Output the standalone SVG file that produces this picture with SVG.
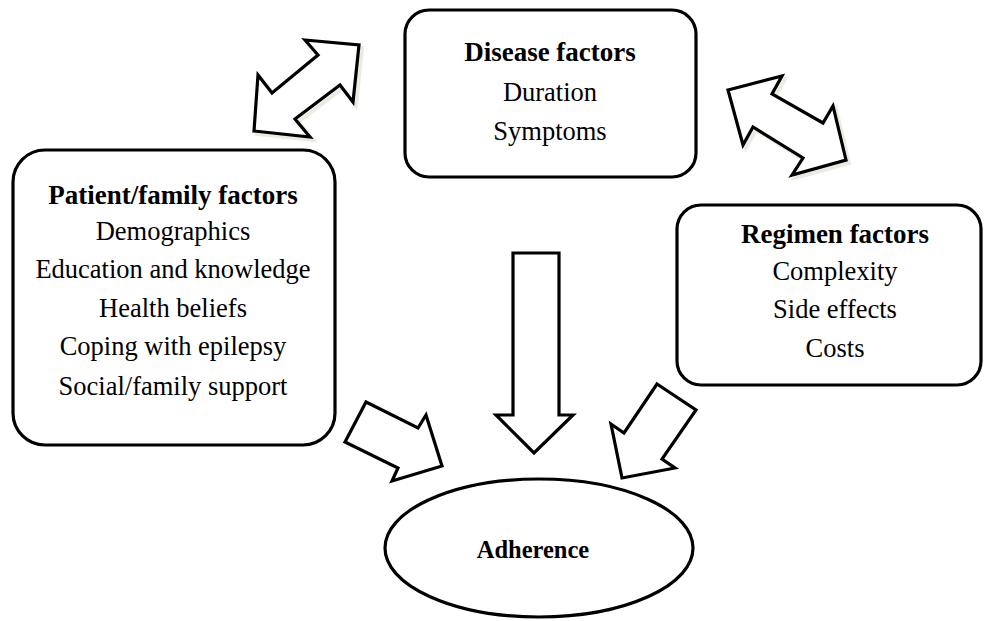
<svg xmlns="http://www.w3.org/2000/svg" width="984" height="621" viewBox="0 0 984 621">
  <style>
    .box { fill: #ffffff; stroke: #000000; stroke-width: 3.2; }
    .arrow { fill: #ffffff; stroke: #000000; stroke-width: 3.2; stroke-linejoin: miter; }
    .shadow { fill: none; stroke: #ecebe3; stroke-width: 4; stroke-linejoin: miter; }
    text { font-family: 'Liberation Serif', 'DejaVu Serif', serif; fill: #000000; text-anchor: middle; }
    .title { font-weight: bold; font-size: 27px; }
    .item { font-size: 26.5px; }
  </style>
  <rect width="984" height="621" fill="#ffffff"/>

  <!-- block arrows between the factor groups and toward adherence -->
  <g id="connectors">
    <polygon class="shadow" transform="translate(3,3)" points="305,40 359,45 353,102 340,85 295,119 310,137 254,131 258,75 272,93 318,55"/>
    <polygon class="arrow" points="305,40 359,45 353,102 340,85 295,119 310,137 254,131 258,75 272,93 318,55"/>
    <polygon class="shadow" transform="translate(3,3)" points="728,90 782,76 772,94 823,123 833,106 846,160 792,175 803,158 753,127 743,145"/>
    <polygon class="arrow" points="728,90 782,76 772,94 823,123 833,106 846,160 792,175 803,158 753,127 743,145"/>
    <polygon class="arrow" points="513,253 559,253 559,415 573,415 534,453 496,415 513,415"/>
    <polygon class="arrow" points="366,402 418,428 426,415 442,466 392,481 398,468 345,442"/>
    <polygon class="arrow" points="657,384 696,410 662,459 675,468 622,478 611,424 624,433"/>
  </g>

  <g id="disease" font-family="Liberation Serif, serif">
    <rect class="box" x="405" y="10" width="291" height="167" rx="24" ry="24"/>
    <text class="title" x="550" y="61">Disease factors</text>
    <text class="item" x="550" y="101">Duration</text>
    <text class="item" x="550" y="140">Symptoms</text>
  </g>

  <g id="patient" font-family="Liberation Serif, serif">
    <rect class="box" x="13" y="150" width="322" height="295" rx="32" ry="32"/>
    <text class="title" x="173" y="204">Patient/family factors</text>
    <text class="item" x="173" y="240">Demographics</text>
    <text class="item" x="173" y="278">Education and knowledge</text>
    <text class="item" x="173" y="317">Health beliefs</text>
    <text class="item" x="173" y="355">Coping with epilepsy</text>
    <text class="item" x="173" y="395">Social/family support</text>
  </g>

  <g id="regimen" font-family="Liberation Serif, serif">
    <rect class="box" x="677" y="205" width="304" height="180" rx="24" ry="24"/>
    <text class="title" x="835" y="243">Regimen factors</text>
    <text class="item" x="835" y="280">Complexity</text>
    <text class="item" x="835" y="318">Side effects</text>
    <text class="item" x="835" y="357">Costs</text>
  </g>

  <g id="adherence" font-family="Liberation Serif, serif">
    <ellipse class="box" cx="539" cy="548" rx="154" ry="69"/>
    <text class="title" x="533" y="558" style="font-size:24.5px">Adherence</text>
  </g>
</svg>
